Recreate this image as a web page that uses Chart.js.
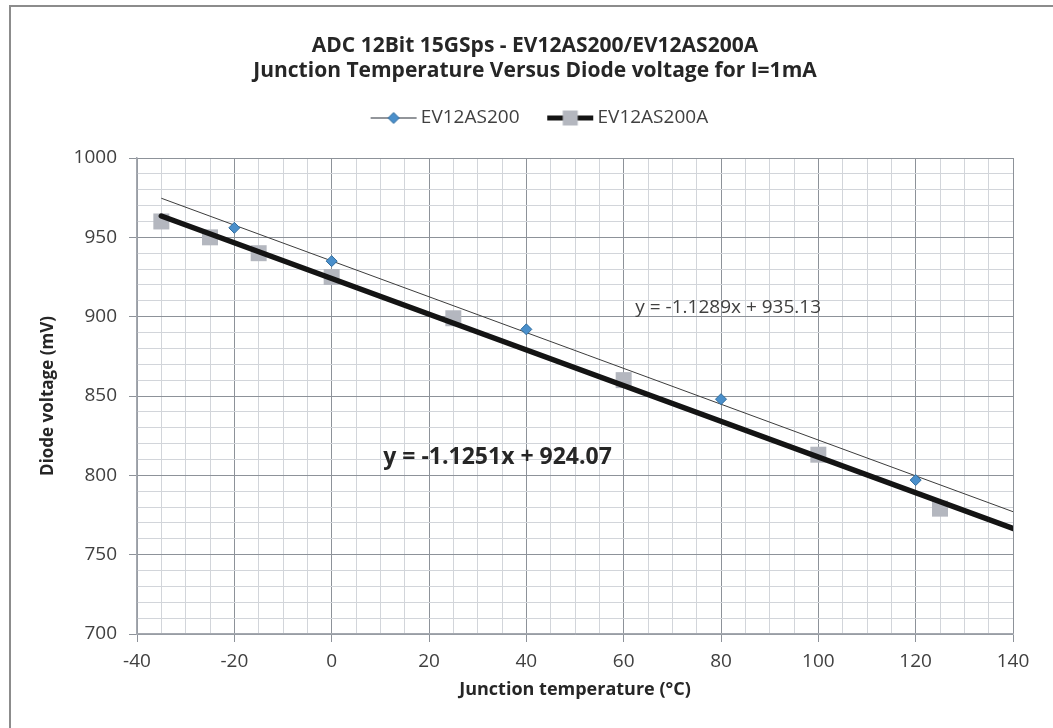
<!DOCTYPE html>
<html>
<head>
<meta charset="utf-8">
<script src="https://cdn.jsdelivr.net/npm/chart.js@4.4.1/dist/chart.umd.min.js"></script>
<style>
  html, body { margin: 0; padding: 0; background: #ffffff; }
  canvas { display: block; }
</style>
</head>
<body>
<canvas id="chart" width="1053" height="728"></canvas>
<script>
// ---------- data ----------
const titleLines = ['ADC 12Bit 15GSps - EV12AS200/EV12AS200A', 'Junction Temperature Versus Diode voltage for I=1mA'];
const seriesNames = ['EV12AS200', 'EV12AS200A'];
const temperaturesA = [-20, 0, 40, 80, 120];
const voltagesA = [956, 935, 892, 848, 797];
const temperaturesB = [-35, -25, -15, 0, 25, 60, 100, 125];
const voltagesB = [960, 950, 940, 925, 899, 860, 813, 779];
const trendSlopes = [-1.1289, -1.1251];
const trendIntercepts = [935.13, 924.07];
const trendRange = [-35, 140];
const xTickLabels = [-40, -20, 0, 20, 40, 60, 80, 100, 120, 140];
const yTickLabels = [700, 750, 800, 850, 900, 950, 1000];
const xAxisTitle = 'Junction temperature (°C)';
const yAxisTitle = 'Diode voltage (mV)';

// ---------- helpers ----------
const toPoints = (xs, ys) => xs.map((x, i) => ({ x: x, y: ys[i] }));
const trendPoints = i => trendRange.map(x => ({ x: x, y: trendSlopes[i] * x + trendIntercepts[i] }));
const eqText = i => 'y = ' + trendSlopes[i] + 'x + ' + trendIntercepts[i];

const MAJOR = '#8d9299';
const MINOR = '#d2d5da';
const NONE = 'rgba(0,0,0,0)';

function makeIcon(kind) {
  const c = document.createElement('canvas');
  c.width = 72; c.height = 20;
  const g = c.getContext('2d');
  const x0 = 20, x1 = 66, cx = 43, cy = 10;
  if (kind === 0) {
    g.strokeStyle = '#6e7279'; g.lineWidth = 1.5;
    g.beginPath(); g.moveTo(x0, cy); g.lineTo(x1, cy); g.stroke();
    g.fillStyle = '#4a8fcb'; g.strokeStyle = '#2f6c9e'; g.lineWidth = 1;
    g.beginPath();
    g.moveTo(cx, cy - 5.5); g.lineTo(cx + 5.5, cy); g.lineTo(cx, cy + 5.5); g.lineTo(cx - 5.5, cy);
    g.closePath(); g.fill(); g.stroke();
  } else {
    g.strokeStyle = '#141414'; g.lineWidth = 5;
    g.beginPath(); g.moveTo(x0, cy); g.lineTo(x1, cy); g.stroke();
    g.fillStyle = '#b4b7bf';
    g.fillRect(cx - 7.5, cy - 7.5, 15, 15);
  }
  return c;
}
const legendIcons = [makeIcon(0), makeIcon(1)];

Chart.defaults.font.family = "'Open Sans', 'DejaVu Sans', sans-serif";
Chart.defaults.color = '#404040';

const framePlugin = {
  id: 'frame',
  beforeDraw(chart) {
    const ctx = chart.ctx;
    ctx.save();
    ctx.fillStyle = '#ffffff';
    ctx.fillRect(0, 0, chart.width, chart.height);
    ctx.strokeStyle = '#8c8c8c';
    ctx.lineWidth = 2;
    ctx.strokeRect(10, 6, chart.width + 20, chart.height + 20);
    ctx.restore();
  }
};

const equationPlugin = {
  id: 'equations',
  afterDatasetsDraw(chart, args, opts) {
    const ctx = chart.ctx;
    const xs = chart.scales.x, ys = chart.scales.y;
    opts.items.forEach(item => {
      ctx.save();
      ctx.font = item.font;
      ctx.fillStyle = item.color;
      ctx.textAlign = 'left';
      ctx.textBaseline = 'middle';
      ctx.fillText(eqText(item.series), xs.getPixelForValue(item.at[0]), ys.getPixelForValue(item.at[1]));
      ctx.restore();
    });
  }
};

const majorX = v => xTickLabels.includes(v);
const majorY = v => yTickLabels.includes(v);

new Chart(document.getElementById('chart'), {
  type: 'scatter',
  data: {
    datasets: [
      {
        label: seriesNames[0],
        data: toPoints(temperaturesA, voltagesA),
        pointStyle: 'rectRot',
        pointRadius: 5.5,
        backgroundColor: '#4a8fcb',
        borderColor: '#2f6c9e',
        borderWidth: 1,
        order: 0
      },
      {
        label: seriesNames[1],
        data: toPoints(temperaturesB, voltagesB),
        pointStyle: 'rect',
        pointRadius: 11.3,
        backgroundColor: '#b4b7bf',
        borderWidth: 0,
        order: 3
      },
      {
        label: 'trend ' + seriesNames[0],
        data: trendPoints(0),
        showLine: true,
        pointRadius: 0,
        borderColor: '#3c3c3c',
        borderWidth: 1,
        order: 1
      },
      {
        label: 'trend ' + seriesNames[1],
        data: trendPoints(1),
        showLine: true,
        pointRadius: 0,
        borderColor: '#141414',
        borderWidth: 5.5,
        borderCapStyle: 'round',
        order: 2
      }
    ]
  },
  options: {
    responsive: false,
    animation: false,
    events: [],
    layout: { padding: { top: 0, left: 17, right: 0, bottom: 0 } },
    plugins: {
      tooltip: { enabled: false },
      title: {
        display: true,
        text: titleLines,
        color: '#262626',
        font: { size: 21, weight: 'bold' },
        padding: { top: 33.4, bottom: 5.7 }
      },
      subtitle: {
        display: true,
        text: '',
        weight: 500,
        font: { size: 10 },
        padding: { top: 0, bottom: 8.5 }
      },
      legend: {
        display: true,
        position: 'top',
        labels: {
          usePointStyle: true,
          pointStyleWidth: 49.5,
          padding: 19,
          color: '#404040',
          font: { size: 19 },
          generateLabels: () => seriesNames.map((n, i) => ({
            text: n,
            pointStyle: legendIcons[i],
            rotation: 0,
            datasetIndex: i,
            hidden: false,
            lineWidth: 0,
            fillStyle: NONE,
            strokeStyle: NONE,
            fontColor: '#404040'
          }))
        }
      },
      equations: {
        items: [
          { series: 0, at: [62.4, 905.6], font: "19px 'Open Sans'", color: '#404040' },
          { series: 1, at: [10.6, 811], font: "bold 23px 'Open Sans'", color: '#262626' }
        ]
      }
    },
    scales: {
      x: {
        type: 'linear',
        position: 'bottom',
        min: -40,
        max: 140,
        afterFit: s => { s.height = 94; },
        ticks: {
          stepSize: 5,
          autoSkip: false,
          maxRotation: 0,
          padding: 8,
          color: '#404040',
          font: { size: 19 },
          callback: v => majorX(v) ? String(v) : ''
        },
        grid: {
          color: c => (c.tick && majorX(c.tick.value)) ? MAJOR : MINOR,
          tickColor: c => (c.tick && majorX(c.tick.value)) ? MAJOR : NONE,
          tickLength: 8,
          lineWidth: 1
        },
        border: { color: '#a4a8af', width: 1.5 },
        title: {
          display: true,
          text: xAxisTitle,
          color: '#262626',
          font: { size: 18, weight: 'bold' },
          padding: { top: 0, bottom: 27 }
        }
      },
      y: {
        type: 'linear',
        position: 'left',
        min: 700,
        max: 1000,
        afterFit: s => { s.width = 120; },
        ticks: {
          stepSize: 10,
          autoSkip: false,
          padding: 12,
          color: '#404040',
          font: { size: 19 },
          callback: v => majorY(v) ? String(v) : ''
        },
        grid: {
          color: c => (c.tick && majorY(c.tick.value)) ? MAJOR : MINOR,
          tickColor: c => (c.tick && majorY(c.tick.value)) ? MAJOR : NONE,
          tickLength: 8,
          lineWidth: 1
        },
        border: { color: '#a4a8af', width: 1.5 },
        title: {
          display: true,
          text: yAxisTitle,
          color: '#262626',
          font: { size: 17, weight: 'bold' },
          padding: { top: 20.8, bottom: 0 }
        }
      },
      yRight: {
        type: 'linear',
        position: 'right',
        display: true,
        afterFit: s => { s.width = 40; },
        ticks: { display: false },
        grid: { display: false, drawOnChartArea: false },
        border: { display: false }
      }
    }
  },
  plugins: [framePlugin, equationPlugin]
});
</script>
</body>
</html>
